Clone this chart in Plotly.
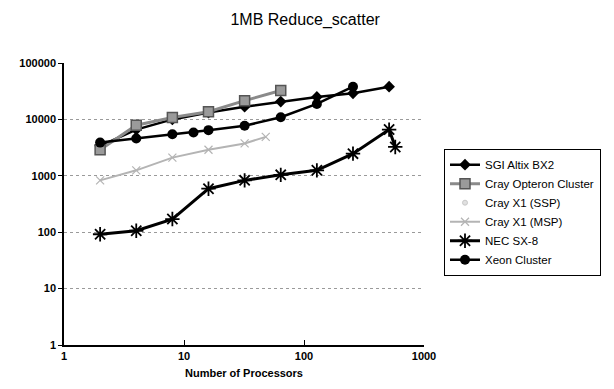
import plotly.graph_objects as go

# ---- data ----
sgi_x = [2, 4, 8, 16, 32, 64, 128, 256, 512]
sgi_y = [3400, 6600, 10000, 13200, 16800, 20700, 25000, 29000, 38000]

opt_x = [2, 4, 8, 16, 32, 64]
opt_y = [2900, 7900, 10800, 13700, 21500, 32500]

ssp_x = [None]
ssp_y = [None]

msp_x = [2, 4, 8, 16, 32, 48]
msp_y = [830, 1250, 2100, 2900, 3750, 4900]

nec_x = [2, 4, 8, 16, 32, 64, 128, 256, 512, 576]
nec_y = [92, 106, 171, 590, 830, 1040, 1250, 2470, 6600, 3250]

xeon_x = [2, 4, 8, 12, 16, 32, 64, 128, 256]
xeon_y = [3880, 4580, 5470, 5860, 6450, 7710, 10900, 18800, 38000]

names = ["SGI Altix BX2", "Cray Opteron Cluster", "Cray X1 (SSP)",
         "Cray X1 (MSP)", "NEC SX-8", "Xeon Cluster"]

x_ticks = [1, 10, 100, 1000]
y_ticks = [1, 10, 100, 1000, 10000, 100000]

fig = go.Figure()
fig.add_trace(go.Scatter(x=sgi_x, y=sgi_y, name=names[0], mode="lines+markers",
                         line=dict(color="black", width=2.5),
                         marker=dict(symbol="diamond", size=9, color="black")))
fig.add_trace(go.Scatter(x=opt_x, y=opt_y, name=names[1], mode="lines+markers",
                         line=dict(color="#8a8a8a", width=3),
                         marker=dict(symbol="square", size=10, color="#9a9a9a",
                                     line=dict(color="#555555", width=1.5))))
fig.add_trace(go.Scatter(x=ssp_x, y=ssp_y, name=names[2], mode="markers",
                         marker=dict(symbol="circle", size=5, color="#e0e0e0",
                                     line=dict(color="#c8c8c8", width=1))))
fig.add_trace(go.Scatter(x=msp_x, y=msp_y, name=names[3], mode="lines+markers",
                         line=dict(color="#b4b4b4", width=2),
                         marker=dict(symbol="x-thin-open", size=8,
                                     line=dict(color="#a0a0a0", width=1.2))))
fig.add_trace(go.Scatter(x=nec_x, y=nec_y, name=names[4], mode="lines+markers",
                         line=dict(color="black", width=3),
                         marker=dict(symbol="asterisk-open", size=12,
                                     line=dict(color="black", width=1.8))))
fig.add_trace(go.Scatter(x=xeon_x, y=xeon_y, name=names[5], mode="lines+markers",
                         line=dict(color="black", width=2.5),
                         marker=dict(symbol="circle", size=10, color="black")))

font_family = "Liberation Sans, Arial, sans-serif"

fig.update_layout(
    width=614, height=389,
    margin=dict(l=64, r=190, t=63, b=44),
    paper_bgcolor="white", plot_bgcolor="white",
    title=dict(text="1MB Reduce_scatter", x=0.497, xanchor="center",
               y=0.95, yanchor="middle",
               font=dict(family=font_family, size=16, color="black")),
    font=dict(family=font_family, color="black"),
    showlegend=True,
    legend=dict(x=1.055, y=0.695, xanchor="left", yanchor="top",
                bordercolor="black", borderwidth=1.2, bgcolor="white",
                font=dict(family=font_family, size=11.5, color="black"),
                itemwidth=30, tracegroupgap=0),
)
fig.update_xaxes(type="log", range=[0, 3], tickvals=x_ticks,
                 ticktext=["<b>%d</b>" % v for v in x_ticks],
                 showline=True, linecolor="black", linewidth=1.5,
                 ticks="inside", ticklen=5, tickcolor="black",
                 showgrid=False, zeroline=False,
                 tickfont=dict(size=11),
                 title=dict(text="<b>Number of Processors</b>",
                            font=dict(size=11), standoff=8))
fig.update_yaxes(type="log", range=[0, 5], tickvals=y_ticks,
                 ticktext=["<b>%d</b>" % v for v in y_ticks],
                 showline=True, linecolor="black", linewidth=1.5,
                 ticks="outside", ticklen=4, tickcolor="black",
                 showgrid=True, gridcolor="#9a9a9a", griddash="dot", gridwidth=1,
                 zeroline=False, tickfont=dict(size=11))

fig.write_html("out.html")
